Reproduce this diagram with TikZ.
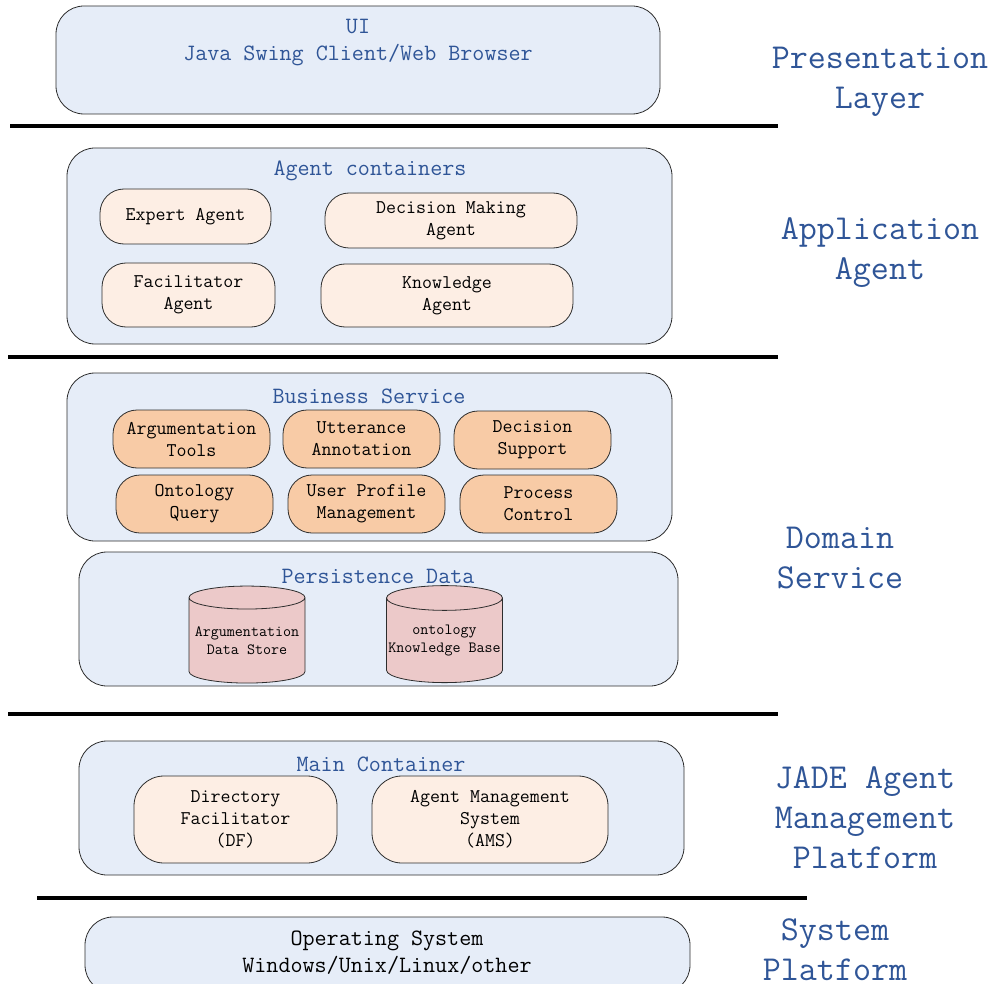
\documentclass[tikz,border=0pt]{standalone}
\usepackage{fontspec}
\usetikzlibrary{shapes.geometric}

\definecolor{layerfill}{RGB}{230,237,248}
\definecolor{titleblue}{RGB}{47,85,151}
\definecolor{agentfill}{RGB}{253,238,228}
\definecolor{servicefill}{RGB}{248,203,166}
\definecolor{storefill}{RGB}{236,201,201}
\definecolor{edgegray}{RGB}{45,45,45}

\newcommand{\sidefont}{\ttfamily\fontsize{35}{40}\selectfont}
\newcommand{\headfont}{\ttfamily\fontsize{23.4}{27}\selectfont}
\newcommand{\itemfont}{\ttfamily\fontsize{19.4}{22}\selectfont}
\newcommand{\storefont}{\ttfamily\fontsize{15.6}{18}\selectfont}

\tikzset{
  layerbox/.style={draw=edgegray, fill=layerfill, rounded corners=28pt, line width=0.8pt, inner sep=0pt},
  agentbox/.style={draw=edgegray, fill=agentfill, rounded corners=24pt, line width=0.8pt, align=center, font=\itemfont, inner sep=0pt},
  servicebox/.style={agentbox, fill=servicefill},
  storebox/.style={cylinder, shape border rotate=90, aspect=0.22, draw=edgegray, fill=storefill, line width=0.8pt, align=center, font=\storefont, inner sep=0pt, minimum width=116pt, minimum height=97pt},
  headtext/.style={font=\headfont, text=titleblue, align=center, inner sep=0pt, yshift=-3pt},
  sidetext/.style={font=\sidefont, text=titleblue, align=center, inner sep=0pt},
  sepline/.style={line width=4pt, black}
}

\begin{document}
\begin{tikzpicture}[x=1pt, y=-1pt]
  \useasboundingbox (0,0) rectangle (998,984);

  % presentation layer
  \node[layerbox, minimum width=604pt, minimum height=108pt] (ui) at (358,60) {};
  \node[headtext] (uitext) at (358,39.5) {UI\\Java Swing Client/Web Browser};
  \draw[sepline] (10,126) -- (778,126);
  \node[sidetext] (presentation) at (880,82) {Presentation\\Layer};

  % application agent
  \node[layerbox, minimum width=605pt, minimum height=196pt] (agents) at (369.5,246) {};
  \node[headtext] (agentstitle) at (370,168) {Agent containers};
  \node[agentbox, minimum width=171pt, minimum height=55pt] (expert) at (185.5,216.5) {Expert Agent};
  \node[agentbox, minimum width=252pt, minimum height=55pt] (decision) at (451,220.5) {Decision Making\\Agent};
  \node[agentbox, minimum width=173pt, minimum height=64pt] (facilitator) at (188.5,295) {Facilitator\\Agent};
  \node[agentbox, minimum width=252pt, minimum height=63pt] (knowledge) at (447,295.5) {Knowledge\\Agent};
  \draw[sepline] (8,357) -- (778,357);
  \node[sidetext] (application) at (880,253) {Application\\Agent};

  % domain service
  \node[layerbox, minimum width=605pt, minimum height=168pt] (business) at (369.5,457) {};
  \node[headtext] (businesstitle) at (369,393) {Business Service};
  \node[servicebox, minimum width=157pt, minimum height=58pt] (argtools) at (191.5,439) {Argumentation\\Tools};
  \node[servicebox, minimum width=157pt, minimum height=58pt] (utterance) at (361.5,439) {Utterance\\Annotation};
  \node[servicebox, minimum width=157pt, minimum height=58pt] (support) at (532.5,440) {Decision\\Support};
  \node[servicebox, minimum width=157pt, minimum height=58pt] (ontoquery) at (194.5,504) {Ontology\\Query};
  \node[servicebox, minimum width=157pt, minimum height=58pt] (profile) at (366.5,504) {User Profile\\Management};
  \node[servicebox, minimum width=157pt, minimum height=58pt] (process) at (538.5,504) {Process\\Control};

  \node[layerbox, minimum width=599pt, minimum height=134pt] (persistence) at (378.5,619) {};
  \node[headtext] (persistencetitle) at (378,573) {Persistence Data};
  \node[storebox] (argstore) at (247,640.5) {Argumentation\\Data Store};
  \node[storebox] (kbase) at (444.5,640.5) {ontology\\Knowledge Base};
  \draw[sepline] (8,714) -- (778,714);
  \node[sidetext] (domain) at (840,558) {Domain\\Service};

  % jade platform
  \node[layerbox, minimum width=605pt, minimum height=134pt] (maincont) at (381.5,808) {};
  \node[headtext] (maintitle) at (381,761) {Main Container};
  \node[agentbox, rounded corners=30pt, minimum width=203pt, minimum height=87pt] (df) at (235.5,819.5) {Directory\\Facilitator\\(DF)};
  \node[agentbox, rounded corners=30pt, minimum width=236pt, minimum height=87pt] (ams) at (490,819.5) {Agent Management\\System\\(AMS)};
  \draw[sepline] (37,898) -- (807,898);
  \node[sidetext] (jade) at (865,818) {JADE Agent\\Management\\Platform};

  % system platform
  \node[layerbox, minimum width=605pt, minimum height=76pt] (os) at (387.5,955) {};
  \node[headtext, text=black] (ostext) at (387,950) {Operating System\\Windows/Unix/Linux/other};
  \node[sidetext] (system) at (835,950) {System\\Platform};
\end{tikzpicture}
\end{document}
